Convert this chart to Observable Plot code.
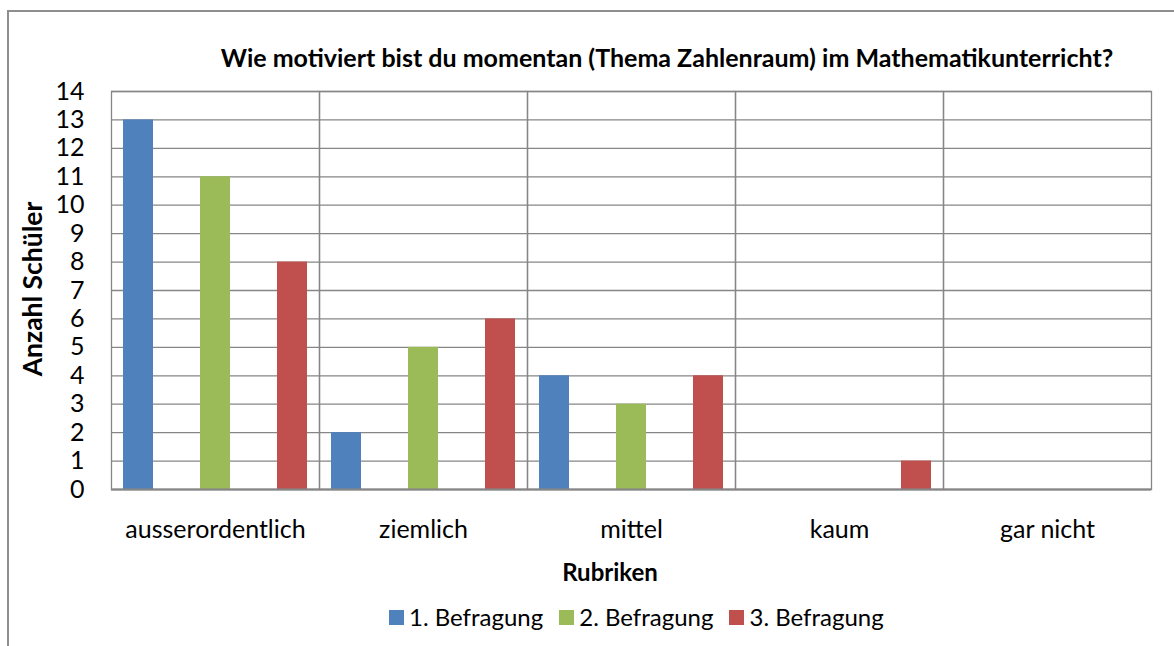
<!DOCTYPE html>
<html>
<head>
<meta charset="utf-8">
<script src="https://cdn.jsdelivr.net/npm/d3@7"></script>
<script src="https://cdn.jsdelivr.net/npm/@observablehq/plot@0.6"></script>
<style>
  html, body { margin: 0; padding: 0; background: #fff; }
  #wrap { position: relative; width: 1174px; height: 646px; overflow: hidden; font-family: Lato, "Open Sans", sans-serif; color: #000; }
  #border { position: absolute; left: 7px; top: 10px; width: 1300px; height: 800px; border-left: 2px solid #8e8e8e; border-top: 2px solid #8e8e8e; }
  #title { position: absolute; left: 167px; width: 1000px; top: 42px; text-align: center; font-weight: bold; font-size: 25px; line-height: 30px; white-space: nowrap; }
  #ylabel { position: absolute; left: 32px; top: 289px; transform: translate(-50%, -50%) rotate(-90deg); font-weight: bold; font-size: 26.5px; white-space: nowrap; line-height: 30px; }
  #xlabel { position: absolute; left: 510px; width: 200px; top: 557px; text-align: center; font-weight: bold; font-size: 24px; line-height: 30px; }
  #chart { position: absolute; left: 0; top: 75px; }
  #legend { position: absolute; left: 389px; top: 602px; display: flex; align-items: center; font-size: 24px; line-height: 30px; white-space: nowrap; }
  .item { display: flex; align-items: center; margin-right: 16px; }
  .sw { width: 15px; height: 15px; margin-right: 5px; }
</style>
</head>
<body>
<div id="wrap">
  <div id="border"></div>
  <div id="title"></div>
  <div id="ylabel"></div>
  <div id="chart"></div>
  <div id="xlabel"></div>
  <div id="legend"></div>
</div>
<script>
const chartTitle = "Wie motiviert bist du momentan (Thema Zahlenraum) im Mathematikunterricht?";
const yTitle = "Anzahl Schüler";
const xTitle = "Rubriken";
const categories = ["ausserordentlich", "ziemlich", "mittel", "kaum", "gar nicht"];
const seriesNames = ["1. Befragung", "2. Befragung", "3. Befragung"];
const seriesColors = ["#4F81BD", "#9BBB59", "#C0504D"];
const befragung1 = [13, 2, 4, 0, 0];
const befragung2 = [11, 5, 3, 0, 0];
const befragung3 = [8, 6, 4, 1, 0];
const yTicks = [0,1,2,3,4,5,6,7,8,9,10,11,12,13,14];

const seriesValues = [befragung1, befragung2, befragung3];
const data = [];
categories.forEach((c, i) => {
  seriesNames.forEach((s, j) => {
    data.push({cat: c, series: s, value: seriesValues[j][i]});
  });
});

document.getElementById("title").textContent = chartTitle;
document.getElementById("ylabel").textContent = yTitle;
document.getElementById("xlabel").textContent = xTitle;

const gridColor = "#868686";

const plot = Plot.plot({
  width: 1174,
  height: 480,
  marginTop: 16,
  marginBottom: 66,
  marginLeft: 110,
  marginRight: 22,
  style: {fontFamily: "Lato, 'Open Sans', sans-serif", fontSize: "25px", color: "#000", background: "transparent"},
  fx: {domain: categories, padding: 0, label: null, tickSize: 0, tickPadding: 31},
  x: {domain: seriesNames, axis: null, paddingInner: 0.613, paddingOuter: 0.151},
  y: {domain: [0, 14], ticks: yTicks, tickSize: 0, tickPadding: 27, label: null, grid: false},
  color: {domain: seriesNames, range: seriesColors},
  marks: [
    Plot.gridY(yTicks, {stroke: gridColor, strokeOpacity: 1, strokeWidth: 1.3}),
    Plot.barY(data, {fx: "cat", x: "series", y: "value", fill: "series"}),
    Plot.frame({stroke: gridColor, strokeWidth: 1.3}),
    Plot.ruleY([0], {stroke: gridColor, strokeWidth: 2})
  ]
});
document.getElementById("chart").appendChild(plot);

const legend = document.getElementById("legend");
seriesNames.forEach((s, j) => {
  const item = document.createElement("div");
  item.className = "item";
  const sw = document.createElement("div");
  sw.className = "sw";
  sw.style.background = seriesColors[j];
  const t = document.createElement("span");
  t.textContent = s;
  item.appendChild(sw);
  item.appendChild(t);
  legend.appendChild(item);
});
</script>
</body>
</html>
